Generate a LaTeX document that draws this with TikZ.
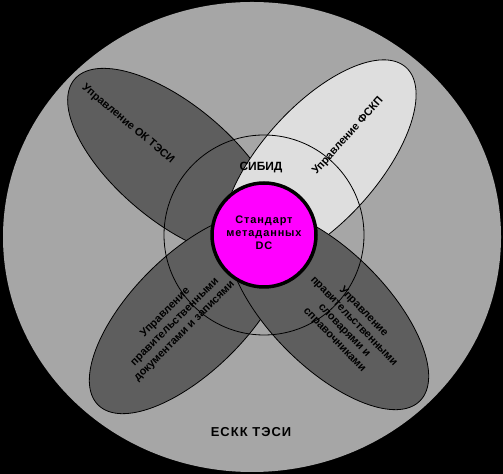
\documentclass[tikz,border=0pt]{standalone}
\usepackage{fontspec}
\setmainfont{Liberation Sans}
\newfontfamily\spacedfont[LetterSpace=8]{Liberation Sans}
\usetikzlibrary{math}
\definecolor{ringgray}{RGB}{166,166,166}
\definecolor{petaldark}{RGB}{94,94,94}
\definecolor{petallight}{RGB}{222,222,222}
\definecolor{corepink}{RGB}{255,0,255}

\begin{document}
\begin{tikzpicture}[x=1bp,y=1bp,
    petal/.style={draw=black, line width=0.8bp},
    lbl/.style={font=\bfseries\fontsize{11}{13.5}\selectfont, align=center, inner sep=0pt}]
      \tikzmath{\a = 130; \b = 58; \cx = 264; \cy = 239;}
      \fill[black] (0,0) rectangle (503,474);
      \fill[ringgray] (252,237) ellipse [x radius=249, y radius=235];
      \path[petal, fill=petaldark, shift={(174,311)}, rotate=-40] (0,0) ellipse [x radius=\a, y radius=\b];
      \path[petal, fill=petallight, shift={(319,310)}, rotate=48] (0,0) ellipse [x radius=\a, y radius=\b];
      \path[petal, fill=petaldark, shift={(190,161)}, rotate=45] (0,0) ellipse [x radius=\a, y radius=\b];
      \path[petal, fill=petaldark, shift={(328,165)}, rotate=-45] (0,0) ellipse [x radius=\a, y radius=\b];
      \draw[line width=0.8bp] (\cx,\cy) circle (100);
      \path [draw=black, fill=corepink, line width=3.5bp] (\cx,\cy) circle (52);
      \node[lbl, rotate=-40] (ok) at (128,350) {Управление ОК ТЭСИ};
      \node[lbl, rotate=48] (fskp) at (348,338) {Управление ФСКП};
      \node[lbl, font=\bfseries\fontsize{12}{14}\selectfont] (sibid) at (261,306) {СИБИД};
      \node[lbl, font=\bfseries\spacedfont\fontsize{11}{13}\selectfont] (dc) at (\cx,241) {Стандарт\\метаданных\\DC};
      \node[lbl, rotate=45] (docs) at (175,152) {Управление\\правительственными\\документами и записями};
      \node[lbl, rotate=-46] (dict) at (349,148) {Управление\\правительственными\\словарями и\\справочниками};
      \node[lbl, font=\bfseries\spacedfont\fontsize{13}{15}\selectfont] (eskk) at (251,42) {ЕСКК ТЭСИ};
    \end{tikzpicture}
\end{document}
